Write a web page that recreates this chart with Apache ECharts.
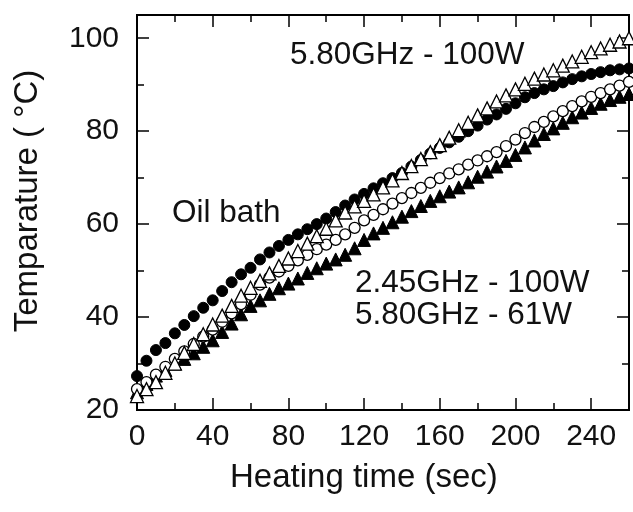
<!DOCTYPE html>
<html>
<head>
<meta charset="utf-8">
<script src="https://cdn.jsdelivr.net/npm/echarts@6/dist/echarts.min.js"></script>
<style>
  html, body { margin: 0; padding: 0; background: #fff; }
  #chart { width: 633px; height: 512px; }
</style>
</head>
<body>
<div id="chart"></div>
<script>
// heating time (sec)
const time = [0, 5, 10, 15, 20, 25, 30, 35, 40, 45, 50, 55, 60, 65, 70, 75, 80, 85, 90, 95,
  100, 105, 110, 115, 120, 125, 130, 135, 140, 145, 150, 155, 160, 165, 170, 175, 180, 185, 190, 195,
  200, 205, 210, 215, 220, 225, 230, 235, 240, 245, 250, 255, 260];

const oilBath = [27.3, 30.6, 32.9, 34.4, 36.5, 38.3, 40.2, 42.0, 43.6, 45.6, 47.5, 49.2, 50.6, 52.4, 53.9, 55.3, 56.6, 57.8, 58.9, 60.0,
  61.2, 62.6, 64.0, 65.3, 66.5, 67.7, 68.8, 69.9, 71.0, 72.4, 73.8, 75.2, 76.4, 77.6, 78.8, 80.0, 81.2, 82.5, 83.6, 84.8,
  86.0, 87.3, 88.2, 89.0, 89.7, 90.5, 91.2, 91.8, 92.3, 92.7, 93.1, 93.3, 93.5];

const mw580_100 = [23.0, 24.5, 26.0, 28.0, 30.0, 32.3, 34.2, 36.3, 38.4, 40.3, 42.4, 44.6, 46.3, 47.8, 49.4, 51.0, 52.6, 54.2, 55.8, 57.4,
  59.0, 60.8, 62.5, 63.8, 65.0, 66.4, 67.9, 69.4, 71.0, 72.5, 74.0, 75.5, 77.0, 78.6, 80.2, 81.8, 83.4, 84.9, 86.4, 87.7,
  89.0, 90.2, 91.3, 92.2, 93.1, 94.1, 95.0, 96.0, 97.0, 97.8, 98.6, 99.3, 100.0];

const mw245_100 = [24.5, 26.0, 27.6, 29.3, 31.0, 32.6, 34.2, 35.8, 37.3, 39.0, 40.8, 42.8, 44.8, 47.0, 48.5, 49.8, 51.0, 52.2, 53.4, 54.6,
  55.6, 56.6, 57.8, 59.2, 60.8, 62.0, 63.2, 64.4, 65.6, 66.7, 67.8, 68.9, 69.9, 70.9, 71.8, 72.8, 73.7, 74.6, 75.5, 76.8,
  78.2, 79.6, 80.9, 82.0, 83.2, 84.3, 85.4, 86.4, 87.4, 88.2, 89.0, 89.8, 90.6];

const mw580_61 = [23.8, 25.6, 27.4, 28.6, 30.0, 31.0, 32.2, 33.6, 35.0, 36.8, 38.6, 40.6, 42.4, 43.6, 45.0, 46.2, 47.2, 48.3, 49.5, 50.5,
  51.5, 52.4, 53.4, 54.8, 56.6, 58.0, 59.2, 60.4, 61.6, 62.8, 63.9, 65.0, 66.0, 67.0, 67.9, 69.0, 70.2, 71.3, 72.4, 73.6,
  74.9, 76.5, 78.0, 79.4, 80.6, 81.8, 83.0, 84.0, 85.0, 85.9, 86.7, 87.4, 88.0];

const font = '"Liberation Sans", Arial, sans-serif';
const ink = '#111';

let chartDom = document.getElementById('chart');
let myChart = echarts.init(chartDom);

function pairs(vals) {
  return time.map((t, i) => [t, vals[i]]);
}

function xAx(pos, interval, len, labels) {
  return {
    type: 'value', position: pos, min: 0, max: 260, interval: interval,
    axisLine: { show: true, onZero: false, lineStyle: { color: '#000', width: 2 } },
    axisTick: { show: true, inside: true, length: len, lineStyle: { color: '#000', width: 1.5 } },
    axisLabel: labels ? { show: true, color: ink, fontSize: 30, fontFamily: font, margin: 12, showMaxLabel: false } : { show: false },
    splitLine: { show: false }
  };
}
function yAx(pos, interval, len, labels) {
  return {
    type: 'value', position: pos, min: 20, max: 105, interval: interval,
    axisLine: { show: true, onZero: false, lineStyle: { color: '#000', width: 2 } },
    axisTick: { show: true, inside: true, length: len, lineStyle: { color: '#000', width: 1.5 } },
    axisLabel: labels ? { show: true, color: ink, fontSize: 30, fontFamily: font, margin: 18, showMaxLabel: false } : { show: false },
    splitLine: { show: false }
  };
}

let option = {
  animation: false,
  backgroundColor: '#fff',
  grid: { left: 137, right: 4, top: 15, bottom: 102 },
  xAxis: [
    xAx('bottom', 40, 12, true),
    xAx('bottom', 20, 7, false),
    xAx('top', 40, 12, false),
    xAx('top', 20, 7, false)
  ],
  yAxis: [
    yAx('left', 20, 12, true),
    yAx('left', 10, 7, false),
    yAx('right', 20, 12, false),
    yAx('right', 10, 7, false)
  ],
  series: [
    {
      name: '5.80GHz - 61W', type: 'scatter', symbol: 'triangle', symbolSize: 13,
      itemStyle: { color: '#000', borderColor: '#000', borderWidth: 1, opacity: 1 },
      data: pairs(mw580_61)
    },
    {
      name: '2.45GHz - 100W', type: 'scatter', symbol: 'circle', symbolSize: 11,
      itemStyle: { color: '#fff', borderColor: '#000', borderWidth: 1.3, opacity: 1 },
      data: pairs(mw245_100)
    },
    {
      name: 'Oil bath', type: 'scatter', symbol: 'circle', symbolSize: 11,
      itemStyle: { color: '#000', borderColor: '#000', borderWidth: 1, opacity: 1 },
      data: pairs(oilBath)
    },
    {
      name: '5.80GHz - 100W', type: 'scatter', symbol: 'triangle', symbolSize: 13,
      itemStyle: { color: '#fff', borderColor: '#000', borderWidth: 1.3, opacity: 1 },
      data: pairs(mw580_100)
    }
  ],
  graphic: [
    { type: 'text', left: 290, top: 39, style: { text: '5.80GHz - 100W', font: '31.5px ' + font, fill: ink } },
    { type: 'text', left: 172, top: 197, style: { text: 'Oil bath', font: '31.5px ' + font, fill: ink } },
    { type: 'text', left: 355, top: 267, style: { text: '2.45GHz - 100W', font: '31.5px ' + font, fill: ink } },
    { type: 'text', left: 355, top: 299, style: { text: '5.80GHz - 61W', font: '31.5px ' + font, fill: ink } },
    { type: 'text', left: 230, top: 461, style: { text: 'Heating time (sec)', font: '33px ' + font, fill: ink } },
    {
      type: 'text', x: 28, y: 201, rotation: Math.PI / 2,
      style: { text: 'Temparature ( \u00B0C)', font: '33px ' + font, fill: ink, align: 'center', verticalAlign: 'middle' }
    }
  ]
};

option && myChart.setOption(option);
</script>
</body>
</html>
